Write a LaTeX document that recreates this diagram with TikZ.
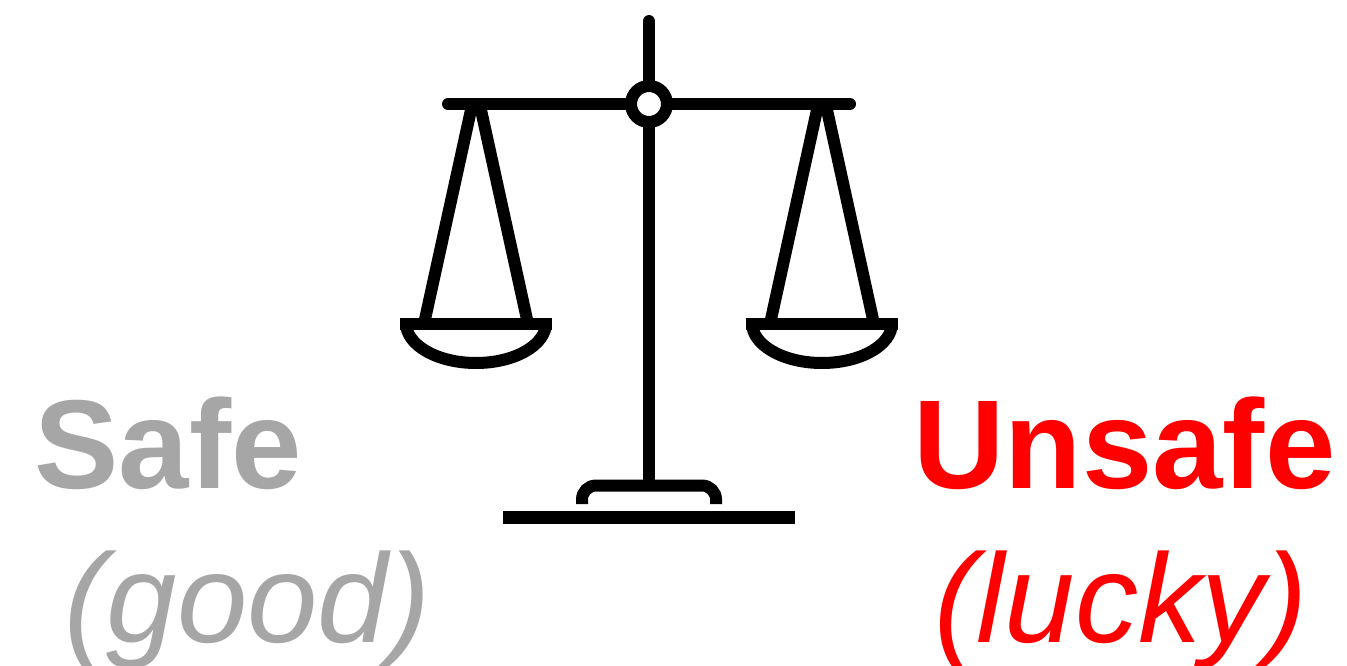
\documentclass[tikz,border=0pt]{standalone}
\usepackage{fontspec}
\setmainfont{Liberation Sans}
\usepackage{xcolor}
\definecolor{safegray}{HTML}{A6A6A6}
\definecolor{unsafered}{HTML}{FF0000}

\begin{document}
\begin{tikzpicture}[
      x=0.02cm, y=-0.02cm,
      every node/.style={inner sep=0pt},
      scalebar/.style={line width=0.24cm, black},
      title/.style={anchor=base, font=\fontsize{72}{80}\selectfont\bfseries},
      note/.style={anchor=base, font=\fontsize{72}{80}\selectfont\itshape},
    ]
    \useasboundingbox (0,0) rectangle (1347,666);

    % post, beam and base
    \draw[scalebar, line cap=round] (649,21) -- (649,86);
    \draw[scalebar] (649,122) -- (649,485);
    \draw[scalebar, line cap=round] (448,104) -- (631,104);
    \draw[scalebar, line cap=round] (667,104) -- (850,104);
    \draw[scalebar] (649,104) circle (18);
    \draw[scalebar, rounded corners=0.28cm] (582,504) -- (582,485.5) -- (716,485.5) -- (716,504);
    \fill[black] (503,511) rectangle (795,524);

    % the two pans
    \foreach \px in {476,822} {
      \draw[scalebar] (\px-3.7,104) -- (\px-51.8,323);
      \draw[scalebar] (\px+3.7,104) -- (\px+51.8,323);
      \draw[scalebar] (\px-76,323.5) -- (\px+76,323.5);
      \draw[scalebar] (\px-70,323) arc[start angle=180, end angle=360, x radius=70, y radius=-40];
    }

    \node[title, text=safegray]    (safe)   at (168,488)    {Safe};
    \node[title, text=unsafered]   (unsafe) at (1124.5,488) {Unsafe};
    \node[note, text=safegray]     (good)   at (247.5,642)  {(good)};
    \node[note, text=unsafered]    (lucky)  at (1121,642)   {(lucky)};
  \end{tikzpicture}
\end{document}
